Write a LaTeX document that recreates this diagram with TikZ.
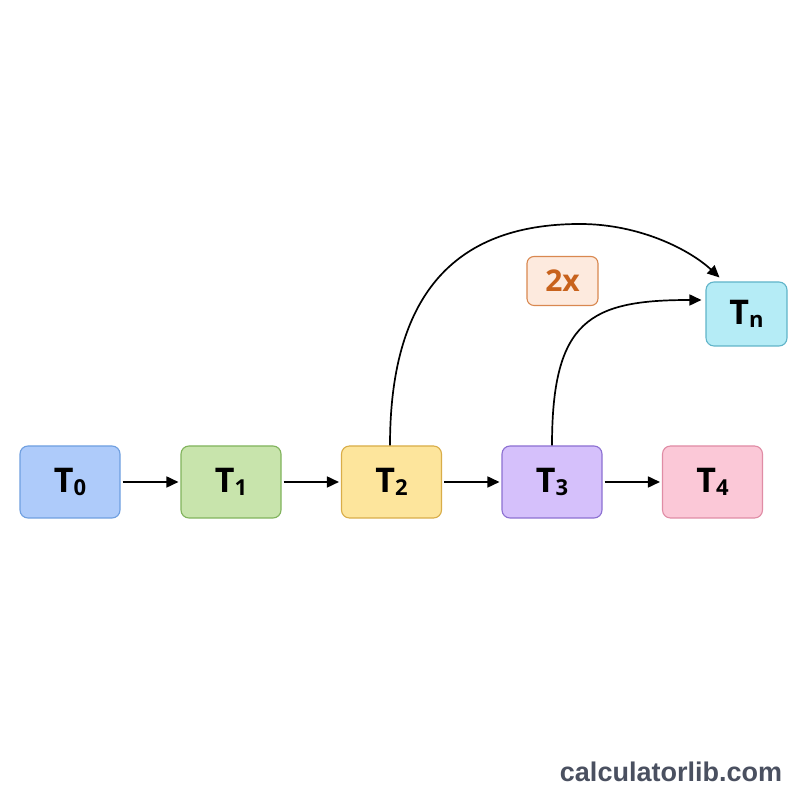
\documentclass[tikz,border=0pt]{standalone}
\usepackage{fontspec}
\setmainfont{Open Sans}
\newfontfamily\wmfont{Liberation Sans}
\usetikzlibrary{arrows.meta}
\definecolor{bzero}{HTML}{AECBFA}\definecolor{dzero}{HTML}{6F9FE0}
\definecolor{bone}{HTML}{C8E4AC}\definecolor{done}{HTML}{80B35C}
\definecolor{btwo}{HTML}{FDE59C}\definecolor{dtwo}{HTML}{D9AD48}
\definecolor{bthree}{HTML}{D5C0FB}\definecolor{dthree}{HTML}{8C70D2}
\definecolor{bfour}{HTML}{FBC8D7}\definecolor{dfour}{HTML}{E08CA5}
\definecolor{bn}{HTML}{B5ECF6}\definecolor{dn}{HTML}{60B4C9}
\definecolor{bx}{HTML}{FDEADE}\definecolor{dx}{HTML}{D98850}\definecolor{tx}{HTML}{C8621C}
\definecolor{wm}{HTML}{4A5060}
\newcommand{\tlab}[1]{\fontsize{34}{34}\selectfont\bfseries T\raisebox{-2.5pt}{\fontsize{22}{22}\selectfont #1}}
\tikzset{
  tbox/.style={draw, line width=1.1pt, rounded corners=8pt, minimum width=100pt, minimum height=72pt, inner sep=0pt},
  conn/.style={line width=1.7pt, -{Triangle[length=12pt,width=11pt]}},
}
\begin{document}
\begin{tikzpicture}[x=1pt,y=1pt]
\path[use as bounding box, fill=white] (0,0) rectangle (800,800);
\node[tbox, fill=bzero, draw=dzero] (t0) at (70,318) {\tlab{0}};
\node[tbox, fill=bone, draw=done] (t1) at (231,318) {\tlab{1}};
\node[tbox, fill=btwo, draw=dtwo] (t2) at (391.5,318) {\tlab{2}};
\node[tbox, fill=bthree, draw=dthree] (t3) at (552,318) {\tlab{3}};
\node[tbox, fill=bfour, draw=dfour] (t4) at (712.5,318) {\tlab{4}};
\node[tbox, fill=bn, draw=dn, minimum width=81pt, minimum height=64pt] (tn) at (746.5,486) {\tlab{n}};
\node[draw=dx, fill=bx, line width=1.1pt, rounded corners=7pt, minimum width=71pt, minimum height=49pt, inner sep=0pt, text=tx] (x2) at (562.5,519) {\fontsize{30}{30}\selectfont\bfseries 2x};
\draw[conn] (t0.east) ++(2,0) -- ([xshift=-2pt]t1.west);
\draw[conn] (t1.east) ++(2,0) -- ([xshift=-2pt]t2.west);
\draw[conn] (t2.east) ++(2,0) -- ([xshift=-2pt]t3.west);
\draw[conn] (t3.east) ++(2,0) -- ([xshift=-2pt]t4.west);
\coordinate (e1) at ([xshift=14pt,yshift=4pt]tn.north west);
\coordinate (e2) at ([xshift=-4pt,yshift=14pt]tn.west);
\draw[conn] ([xshift=-1.5pt]t2.north) .. controls (390,500) and (450,576) .. (580,576) .. controls (640,576) and (690,550) .. (e1);
\draw[conn] (t3.north) .. controls (552,480) and (590,500) .. (e2);
\node[text=wm, font=\wmfont\bfseries\fontsize{27}{27}\selectfont] (wmk) at (671,28) {calculatorlib.com};
\end{tikzpicture}
\end{document}
